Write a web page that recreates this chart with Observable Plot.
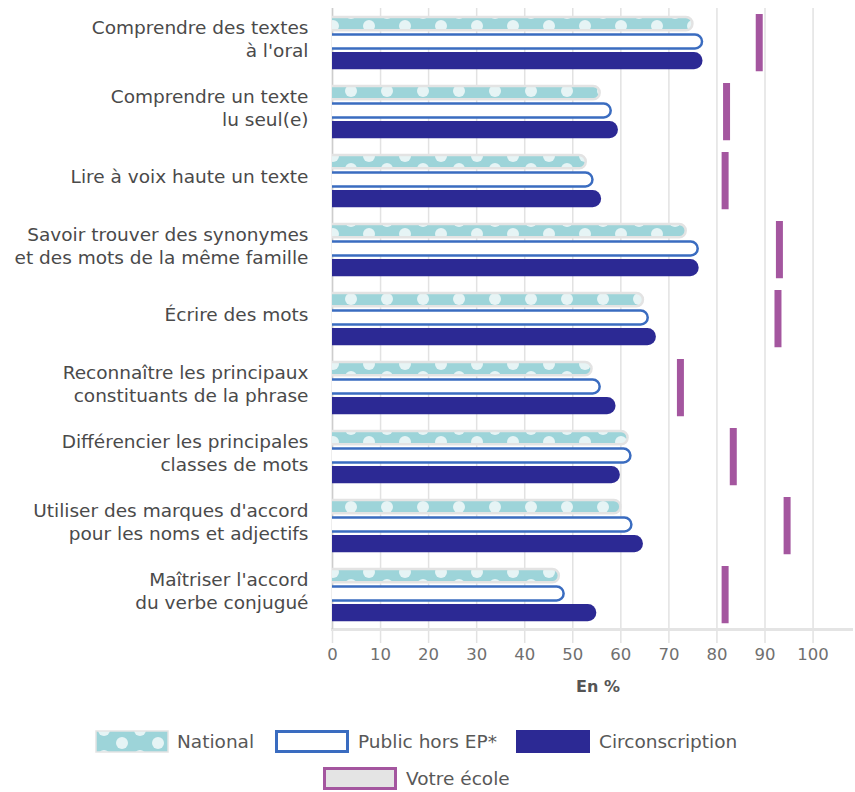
<!DOCTYPE html>
<html><head><meta charset="utf-8">
<script src="https://cdn.jsdelivr.net/npm/d3@7"></script>
<script src="https://cdn.jsdelivr.net/npm/@observablehq/plot@0.6"></script>
<style>
body{margin:0;background:#fff;font-family:"DejaVu Sans",sans-serif;}
#wrap{position:relative;width:855px;height:792px;overflow:hidden;}
#legend{position:absolute;left:0;top:705px;width:855px;height:87px;color:#585858;font-size:18.5px;}
.sw{position:absolute;display:block;}
.lt{position:absolute;line-height:23px;white-space:nowrap;}
</style></head><body><div id="wrap"><div id="chart"></div><div id="legend"></div></div>
<script>
const categories = [
  "Comprendre des textes\nà l'oral",
  "Comprendre un texte\nlu seul(e)",
  "Lire à voix haute un texte",
  "Savoir trouver des synonymes\net des mots de la même famille",
  "Écrire des mots",
  "Reconnaître les principaux\nconstituants de la phrase",
  "Différencier les principales\nclasses de mots",
  "Utiliser des marques d'accord\npour les noms et adjectifs",
  "Maîtriser l'accord\ndu verbe conjugué"
];
const national        = [75.0, 55.7, 52.8, 73.6, 64.7, 54.0, 61.5, 60.0, 47.2];
const publicHorsEP    = [77.0, 58.0, 54.2, 76.1, 65.7, 55.7, 62.1, 62.3, 48.2];
const circonscription = [77.1, 59.5, 56.0, 76.3, 67.4, 59.0, 59.9, 64.7, 55.0];
const votreEcole      = [88.8, 82.0, 81.7, 93.0, 92.7, 72.4, 83.4, 94.6, 81.7];
const xTicks = [0, 10, 20, 30, 40, 50, 60, 70, 80, 90, 100];
const seriesNames = ["National", "Public hors EP*", "Circonscription", "Votre école"];
const xLabel = "En %";

const rows = categories.map((c, i) => ({
  cat: c, national: national[i], pub: publicHorsEP[i], circ: circonscription[i], ecole: votreEcole[i]
}));

const FONT = '"DejaVu Sans", sans-serif';
const plot = Plot.plot({
  width: 855, height: 705,
  marginTop: 8, marginBottom: 76, marginLeft: 332, marginRight: 4,
  x: {domain: [0, 108], axis: null},
  y: {domain: categories, padding: 0, axis: null},
  style: {fontFamily: FONT, background: "white", overflow: "visible"},
  marks: [
    Plot.ruleX(xTicks, {x: d => d, stroke: "#e2e2e2", strokeWidth: 1.5, insetBottom: -14}),
    Plot.frame({anchor: "bottom", stroke: "#e4e4e4", strokeWidth: 3}),
    Plot.ruleX([0], {stroke: "#cdcdcd", strokeWidth: 1.5}),
    Plot.barX(rows, {y: "cat", x: "national", fill: "url(#natdots)", stroke: "#e3e3e3", strokeWidth: 2.5,
      insetTop: 9, insetBottom: 46.75, rx: 6.5, insetLeft: -20, clip: true}),
    Plot.barX(rows, {y: "cat", x: "pub", fill: "white", stroke: "#3a6cc0", strokeWidth: 2.5,
      insetTop: 26.5, insetBottom: 28.5, rx: 7, insetLeft: -20, clip: true}),
    Plot.barX(rows, {y: "cat", x: "circ", fill: "#2c2994",
      insetTop: 44, insetBottom: 7.75, rx: 8.5, insetLeft: -20, clip: true}),
    Plot.tickX(rows, {x: "ecole", y: "cat", stroke: "#a4569f", strokeWidth: 7, insetTop: 6, insetBottom: 5.75}),
    Plot.text(categories, {y: d => d, text: d => d, frameAnchor: "left", dx: -24, dy: -5, textAnchor: "end",
      fontSize: 18.5, lineHeight: 1.25, fill: "#4a4a4a"}),
    Plot.text(xTicks, {x: d => d, text: d => String(d), frameAnchor: "bottom", dy: 30, fontSize: 16.5, fill: "#707070"}),
    Plot.text([xLabel], {frameAnchor: "bottom", dy: 62, dx: 6, text: d => d, fontSize: 16, fontWeight: "bold", fill: "#555"})
  ]
});

const pat = (id) => `<pattern id="${id}" patternUnits="userSpaceOnUse" width="36" height="26">
  <rect width="36" height="26" fill="#9dd4d9"/>
  <circle cx="9" cy="0" r="6" fill="#e6f4f5"/><circle cx="9" cy="26" r="6" fill="#e6f4f5"/>
  <circle cx="27" cy="13" r="6" fill="#e6f4f5"/></pattern>`;
d3.select(plot).insert("defs", ":first-child").html(pat("natdots"));
document.getElementById("chart").appendChild(plot);

// Legend
const legend = d3.select("#legend");
const items = [
  {name: seriesNames[0], sx: 95,  sy: 25, tx: 177, kind: "nat"},
  {name: seriesNames[1], sx: 275, sy: 25, tx: 358, kind: "pub"},
  {name: seriesNames[2], sx: 516, sy: 25, tx: 599, kind: "circ"},
  {name: seriesNames[3], sx: 323, sy: 62, tx: 406, kind: "ecole"}
];
items.forEach(it => {
  const svg = legend.append("svg").attr("class", "sw").attr("width", 74).attr("height", 23)
    .style("left", it.sx + "px").style("top", it.sy + "px");
  if (it.kind === "nat") {
    svg.append("defs").html(pat("natdots2"));
    svg.append("rect").attr("x", 1).attr("y", 1).attr("width", 72).attr("height", 21)
      .attr("fill", "url(#natdots2)").attr("stroke", "#e3e3e3").attr("stroke-width", 1.5);
  } else if (it.kind === "pub") {
    svg.append("rect").attr("x", 1.5).attr("y", 1.5).attr("width", 71).attr("height", 20)
      .attr("fill", "white").attr("stroke", "#3a6cc0").attr("stroke-width", 3);
  } else if (it.kind === "circ") {
    svg.append("rect").attr("x", 0).attr("y", 0).attr("width", 74).attr("height", 23).attr("fill", "#2c2994");
  } else {
    svg.append("rect").attr("x", 1.5).attr("y", 1.5).attr("width", 71).attr("height", 20)
      .attr("fill", "#e4e4e4").attr("stroke", "#a4569f").attr("stroke-width", 3);
  }
  legend.append("div").attr("class", "lt").style("left", it.tx + "px").style("top", (it.sy) + "px").text(it.name);
});
</script></body></html>
